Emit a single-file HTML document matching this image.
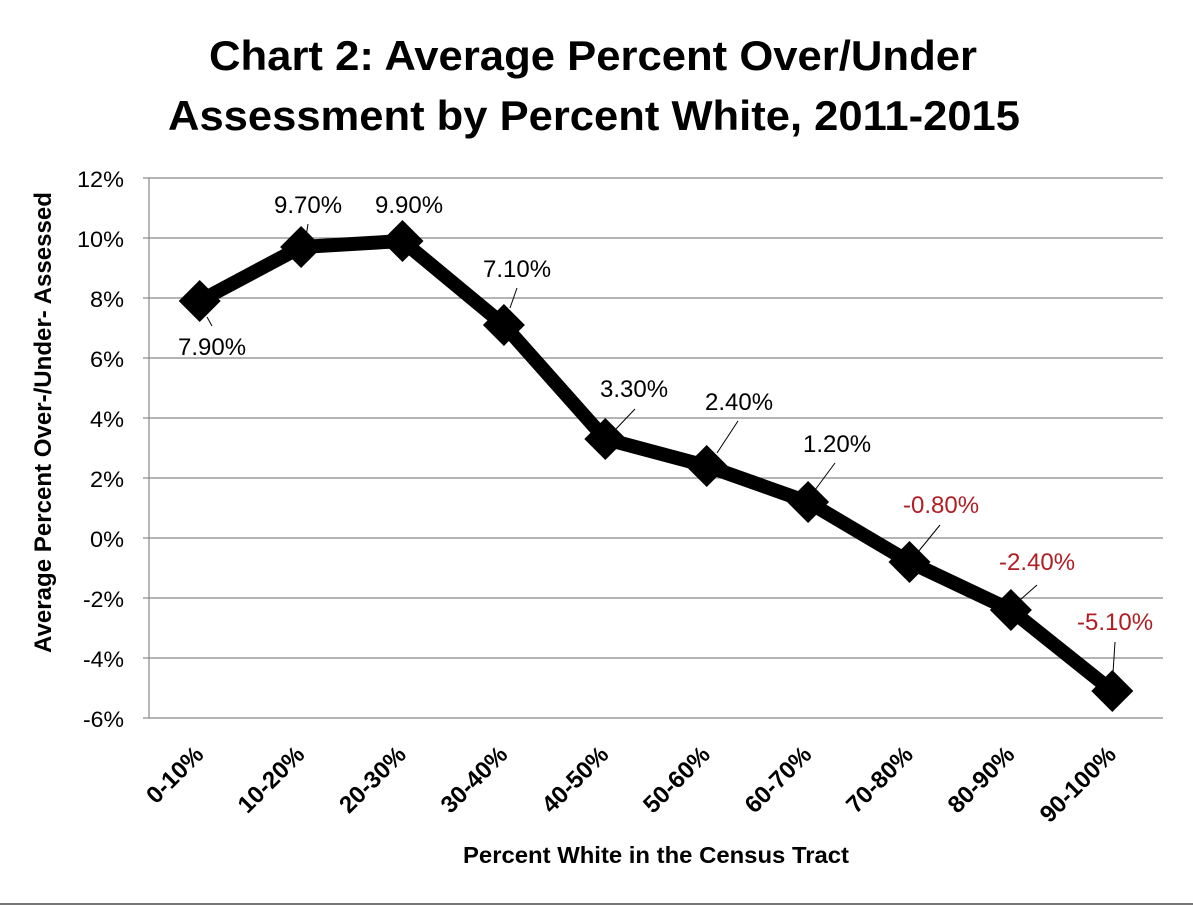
<!DOCTYPE html>
<html><head><meta charset="utf-8"><style>
html,body{margin:0;padding:0;background:#fff;}
svg{display:block;}
</style></head><body>
<svg width="1193" height="905" viewBox="0 0 1193 905" xmlns="http://www.w3.org/2000/svg">
<rect width="1193" height="905" fill="#fff"/>
<!-- title -->
<g font-family="Liberation Sans, Arial, sans-serif" font-weight="bold" fill="#000" text-anchor="middle">
<text x="593" y="70" font-size="42" textLength="768" lengthAdjust="spacingAndGlyphs">Chart 2: Average Percent Over/Under</text>
<text x="594" y="130" font-size="42" textLength="852" lengthAdjust="spacingAndGlyphs">Assessment by Percent White, 2011-2015</text>
</g>
<!-- gridlines -->
<g stroke="#888" stroke-width="1.2" fill="none">
<line x1="149" y1="178" x2="1163" y2="178"/>
<line x1="149" y1="238" x2="1163" y2="238"/>
<line x1="149" y1="298" x2="1163" y2="298"/>
<line x1="149" y1="358" x2="1163" y2="358"/>
<line x1="149" y1="418" x2="1163" y2="418"/>
<line x1="149" y1="478" x2="1163" y2="478"/>
<line x1="149" y1="538" x2="1163" y2="538"/>
<line x1="149" y1="598" x2="1163" y2="598"/>
<line x1="149" y1="658" x2="1163" y2="658"/>
<line x1="149" y1="718" x2="1163" y2="718"/>
<line x1="149" y1="178" x2="149" y2="718"/>
<line x1="143" y1="178" x2="149" y2="178"/>
<line x1="143" y1="238" x2="149" y2="238"/>
<line x1="143" y1="298" x2="149" y2="298"/>
<line x1="143" y1="358" x2="149" y2="358"/>
<line x1="143" y1="418" x2="149" y2="418"/>
<line x1="143" y1="478" x2="149" y2="478"/>
<line x1="143" y1="538" x2="149" y2="538"/>
<line x1="143" y1="598" x2="149" y2="598"/>
<line x1="143" y1="658" x2="149" y2="658"/>
<line x1="143" y1="718" x2="149" y2="718"/>
</g>
<line x1="0" y1="904" x2="1193" y2="904" stroke="#777" stroke-width="2"/>
<!-- y tick labels -->
<g font-family="Liberation Sans, Arial, sans-serif" font-size="22" fill="#000" text-anchor="end">
<text x="124" y="187" textLength="47" lengthAdjust="spacingAndGlyphs">12%</text>
<text x="124" y="247" textLength="47" lengthAdjust="spacingAndGlyphs">10%</text>
<text x="124" y="307" textLength="34" lengthAdjust="spacingAndGlyphs">8%</text>
<text x="124" y="367" textLength="34" lengthAdjust="spacingAndGlyphs">6%</text>
<text x="124" y="427" textLength="34" lengthAdjust="spacingAndGlyphs">4%</text>
<text x="124" y="487" textLength="34" lengthAdjust="spacingAndGlyphs">2%</text>
<text x="124" y="547" textLength="34" lengthAdjust="spacingAndGlyphs">0%</text>
<text x="124" y="607" textLength="41" lengthAdjust="spacingAndGlyphs">-2%</text>
<text x="124" y="667" textLength="41" lengthAdjust="spacingAndGlyphs">-4%</text>
<text x="124" y="727" textLength="41" lengthAdjust="spacingAndGlyphs">-6%</text>
</g>
<!-- y axis title -->
<text transform="translate(51,422.5) rotate(-90)" text-anchor="middle" font-family="Liberation Sans, Arial, sans-serif" font-weight="bold" font-size="24" textLength="461" lengthAdjust="spacingAndGlyphs" fill="#000">Average Percent Over-/Under- Assessed</text>
<!-- x tick labels -->
<g font-family="Liberation Sans, Arial, sans-serif" font-weight="bold" font-size="24" fill="#000" text-anchor="end">
<text transform="translate(205,756) rotate(-45)">0-10%</text>
<text transform="translate(306,756) rotate(-45)">10-20%</text>
<text transform="translate(407.5,756) rotate(-45)">20-30%</text>
<text transform="translate(509,756) rotate(-45)">30-40%</text>
<text transform="translate(610,756) rotate(-45)">40-50%</text>
<text transform="translate(711.5,756) rotate(-45)">50-60%</text>
<text transform="translate(813,756) rotate(-45)">60-70%</text>
<text transform="translate(914.5,756) rotate(-45)">70-80%</text>
<text transform="translate(1016,756) rotate(-45)">80-90%</text>
<text transform="translate(1117.5,756) rotate(-45)">90-100%</text>
</g>
<!-- x axis title -->
<text x="656" y="863" text-anchor="middle" font-family="Liberation Sans, Arial, sans-serif" font-weight="bold" font-size="23" textLength="386" lengthAdjust="spacingAndGlyphs" fill="#000">Percent White in the Census Tract</text>
<!-- series line -->
<polyline points="199.7,301 301.1,247 402.5,241 503.9,325 605.3,439 706.7,466 808.1,502 909.5,562 1010.9,610 1112.3,691" fill="none" stroke="#000" stroke-width="14" stroke-linejoin="round" stroke-linecap="round"/>
<!-- markers -->
<g fill="#000">
<path d="M199.7,280 L220.7,301 L199.7,322 L178.7,301 Z"/>
<path d="M301.1,226 L322.1,247 L301.1,268 L280.1,247 Z"/>
<path d="M402.5,220 L423.5,241 L402.5,262 L381.5,241 Z"/>
<path d="M503.9,304 L524.9,325 L503.9,346 L482.9,325 Z"/>
<path d="M605.3,418 L626.3,439 L605.3,460 L584.3,439 Z"/>
<path d="M706.7,445 L727.7,466 L706.7,487 L685.7,466 Z"/>
<path d="M808.1,481 L829.1,502 L808.1,523 L787.1,502 Z"/>
<path d="M909.5,541 L930.5,562 L909.5,583 L888.5,562 Z"/>
<path d="M1010.9,589 L1031.9,610 L1010.9,631 L989.9,610 Z"/>
<path d="M1112.3,670 L1133.3,691 L1112.3,712 L1091.3,691 Z"/>
</g>
<!-- leader lines -->
<g stroke="#000" stroke-width="1">
<line x1="207" y1="317" x2="212" y2="326"/>
<line x1="308" y1="224" x2="306" y2="237"/>
<line x1="517" y1="288" x2="510" y2="308"/>
<line x1="635" y1="409" x2="615" y2="430"/>
<line x1="738" y1="421" x2="717" y2="453"/>
<line x1="835" y1="463" x2="815" y2="490"/>
<line x1="940" y1="525" x2="918" y2="552"/>
<line x1="1037" y1="585" x2="1020" y2="600"/>
<line x1="1115" y1="642" x2="1113" y2="673"/>
</g>
<!-- data labels -->
<g font-family="Liberation Sans, Arial, sans-serif" font-size="24" fill="#000">
<text x="178" y="355">7.90%</text>
<text x="274" y="213">9.70%</text>
<text x="375" y="213">9.90%</text>
<text x="483" y="277">7.10%</text>
<text x="600" y="397">3.30%</text>
<text x="705" y="410">2.40%</text>
<text x="803" y="452">1.20%</text>
</g>
<g font-family="Liberation Sans, Arial, sans-serif" font-size="24" fill="#b01e24">
<text x="903" y="513">-0.80%</text>
<text x="999" y="570">-2.40%</text>
<text x="1077" y="630">-5.10%</text>
</g>
</svg>
</body></html>
